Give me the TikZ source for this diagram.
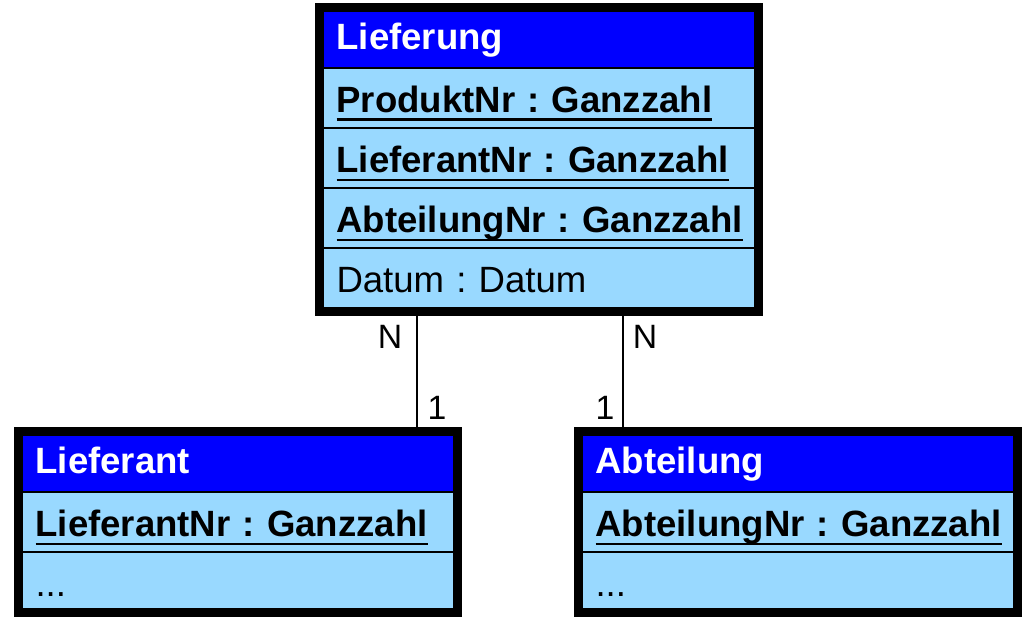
\documentclass[tikz,border=0pt]{standalone}
\usepackage{fontspec}
\setmainfont{Liberation Sans}
\usetikzlibrary{positioning,fit}
\definecolor{headblue}{RGB}{0,0,255}
\definecolor{rowblue}{RGB}{153,217,255}
\frenchspacing
\newcommand{\keyattr}[1]{\leavevmode\setbox0\hbox{\bfseries #1}\rlap{\rule[-6.5pt]{\wd0}{2.1pt}}\box0}

\begin{document}
\begin{tikzpicture}[x = 0.025cm, y = -0.025cm,
    head/.style = {draw, line width = 1pt, fill = headblue, text = white,
                   font = \fontsize{26}{30}\selectfont\bfseries, outer sep = 0pt,
                   text width = 288pt, align = left, inner xsep = 9.6pt, inner ysep = 0pt,
                   text height = 27.5pt, text depth = 13.04pt},
    row/.style = {draw, line width = 1pt, fill = rowblue,
                  font = \fontsize{26}{30}\selectfont, outer sep = 0pt,
                  text width = 288pt, align = left, inner xsep = 9.6pt, inner ysep = 0pt,
                  text height = 31.5pt, text depth = 11.18pt},
    lastrow/.style = {row, text depth = 9pt},
    frame/.style = {draw, line width = 5.69pt, inner sep = 2.85pt},
    link/.style = {line width = 1pt},
    card/.style = {font = \fontsize{24}{28}\selectfont, inner sep = 0pt}]
  \useasboundingbox (0,0) rectangle (1036,633);
  % Lieferung
  \node [head, anchor = north west] (lieferungHead) at (323, 11) {Lieferung};
  \node [row, below = 0pt of lieferungHead] (produktNr) {\keyattr{ProduktNr : Ganzzahl}};
  \node [row, below = 0pt of produktNr] (lieferantNrA) {\keyattr{LieferantNr : Ganzzahl}};
  \node [row, below = 0pt of lieferantNrA] (abteilungNrA) {\keyattr{AbteilungNr : Ganzzahl}};
  \node [row, below = 0pt of abteilungNrA] (datum) {Datum : Datum};
  \node [frame, fit = (lieferungHead) (datum)] (lieferung) {};
  % Lieferant
  \node [head, anchor = north west] (lieferantHead) at (22, 435) {Lieferant};
  \node [row, below = 0pt of lieferantHead] (lieferantNrB) {\keyattr{LieferantNr : Ganzzahl}};
  \node [lastrow, below = 0pt of lieferantNrB] (lieferantRest) {...};
  \node [frame, fit = (lieferantHead) (lieferantRest)] (lieferant) {};
  % Abteilung
  \node [head, anchor = north west] (abteilungHead) at (582, 435) {Abteilung};
  \node [row, below = 0pt of abteilungHead] (abteilungNrB) {\keyattr{AbteilungNr : Ganzzahl}};
  \node [lastrow, below = 0pt of abteilungNrB] (abteilungRest) {...};
  \node [frame, fit = (abteilungHead) (abteilungRest)] (abteilung) {};
  % links
  \coordinate (leftLink) at (417, 0);
  \coordinate (rightLink) at (623, 0);
  \draw [link] (lieferung.south -| leftLink) -- (lieferant.north -| leftLink);
  \draw [link] (lieferung.south -| rightLink) -- (abteilung.north -| rightLink);
  \node [card] (leftN) at (390, 337) {N};
  \node [card] (leftOne) at (437, 408) {1};
  \node [card] (rightN) at (645, 337) {N};
  \node [card] (rightOne) at (605, 408) {1};
\end{tikzpicture}
\end{document}
